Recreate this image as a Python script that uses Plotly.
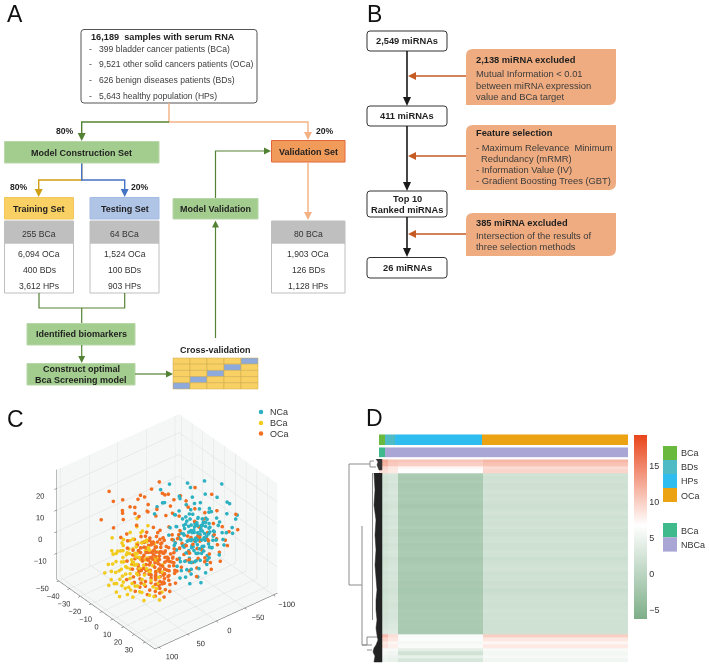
import plotly.graph_objects as go

W, H = 709, 666
FONT = 'Liberation Sans'
GREEN = '#a3cd8e'
GREEN_LINE = '#548235'
ORANGE_LINE = '#f4b183'
BROWN = '#c55a22'

# Panel C values (x, y, z)
nca_points = [
    (-1,-55,22),(6,-72,21),(-6,-40,19),(-14,-50,17),(3,-30,16),(8,-60,17),(-10,-28,15),(12,-70,15),(-4,-62,14),(1,-44,14),
    (10,-42,13),(-8,-47,13),(16,-62,12),(4,-25,12),(-13,-35,12),(7,-52,11),(-2,-33,11),(14,-48,11),(20,-70,10),(-7,-22,10),
    (2,-58,10),(11,-30,10),(-11,-42,9),(6,-38,9),(17,-45,9),(-3,-50,9),(9,-20,9),(0,-28,8),(13,-55,8),(22,-60,8),
    (-9,-18,8),(5,-46,8),(18,-35,8),(-5,-30,7),(8,-33,7),(1,-15,7),(12,-40,7),(25,-55,7),(-6,-38,7),(15,-25,7),
    (3,-52,6),(-1,-22,6),(10,-28,6),(19,-48,6),(-12,-25,6),(6,-18,6),(14,-36,6),(2,-36,6),(23,-42,5),(-4,-12,5),
    (9,-44,5),(17,-22,5),(0,-30,5),(5,-25,5),(12,-15,5),(-8,-30,5),(20,-30,5),(7,-36,4),(-2,-40,4),(15,-40,4),
    (3,-20,4),(10,-12,4),(26,-38,4),(-6,-15,4),(13,-28,4),(1,-48,3),(18,-18,3),(5,-32,3),(-3,-24,3),(8,-8,3),
    (22,-25,3),(11,-36,3),(-9,-10,3),(16,-30,2),(3,-42,2),(6,-14,2),(-1,-18,2),(20,-14,2),(9,-24,2),(13,-6,2),
    (-5,-35,2),(27,-28,1),(1,-10,1),(15,-16,1),(7,-30,1),(-7,-4,1),(11,-20,1),(4,-38,1),(18,-8,1),(0,-2,0),
    (24,-16,0),(8,-16,0),(-3,-14,0),(13,-26,0),(5,-6,0),(17,-34,0),(2,-26,-1),(10,-2,-1),(21,-6,-1),(-5,-8,-1),
    (14,-12,-1),(6,-22,-2),(18,-24,-2),(-2,-4,-2),(9,-32,-2),(25,-10,-2),(3,-12,-2),(12,-4,-3),(16,0,-3),(0,-20,-3),
    (7,-10,-3),(20,-20,-3),(11,2,-4),(4,-18,-4),(15,-8,-4),(22,-2,-4),(-1,-6,-4),(8,4,-5),(13,-14,-5),(18,4,-5),
    (5,0,-5),(26,-6,-5),(10,-8,-6),(15,6,-6),(20,8,-6),(7,8,-7),(23,2,-7),(12,10,-7),(17,12,-8),(27,4,-8),
    (22,14,-9),(14,16,-9),(-16,-10,12),(-20,-8,9),(-17,2,8),(-22,-18,15),(-12,-6,14),(-18,-26,18),(9,-80,12),(14,-84,8),
    (4,-34,9),(8,-40,6),(12,-24,8),(-1,-38,5),(5,-28,7),(10,-36,9),(15,-32,6),(3,-26,3),(7,-22,5),(12,-32,2),
    (-3,-28,6),(1,-34,4),(6,-30,2),(10,-18,3),(14,-22,4),(2,-14,3),(8,-26,8),(17,-38,7),(19,-26,2),(4,-40,5),
    (13,-44,3),(9,-38,1),(16,-18,-1),(6,-26,0),(11,-14,-1),(21,-34,5),(-4,-20,1),(0,-42,7),(24,-46,8),(7,-48,6),
]
bca_points = [
    (-25,8,-2),(-30,20,-3),(-22,30,-2),(-18,14,-3),(-28,38,-5),(-14,8,-4),(-32,28,-6),(-20,44,-6),(-12,22,-5),(-24,18,-6),
    (-16,34,-6),(-8,14,-5),(-27,50,-8),(-19,26,-7),(-10,34,-7),(-22,36,-8),(-14,46,-8),(-6,22,-7),(-30,42,-9),(-17,18,-7),
    (-11,28,-8),(-24,56,-10),(-4,30,-8),(-18,40,-9),(-8,44,-9),(-26,30,-8),(-13,52,-10),(-21,48,-10),(-2,38,-9),(-15,30,-9),
    (-7,52,-10),(-19,60,-12),(-10,42,-10),(-28,62,-12),(-3,46,-10),(-14,58,-12),(0,28,-9),(-23,66,-13),(-9,60,-12),(-17,50,-11),
    (-5,36,-10),(2,44,-11),(-12,66,-14),(-20,72,-15),(-6,62,-13),(1,54,-12),(-15,72,-15),(-2,60,-13),(4,34,-10),(-8,70,-15),
    (6,48,-12),(-4,74,-16),(-18,80,-16),(3,62,-14),(-10,82,-16),(8,58,-14),(0,72,-16),(-26,72,-14),(-13,24,-4),(-5,18,-6),
    (-20,10,-5),(-16,22,-2),(-9,26,-3),(-12,38,-6),(-3,24,-6),(-25,42,-7),(-7,34,-5),(-15,16,-6),(-22,24,-5),(-1,18,-8),
    (3,26,-9),(-11,48,-8),(-18,32,-4),(5,38,-12),(-6,42,-7),(-14,38,-10),(-9,18,-8),(-20,54,-9),(-2,52,-11),(7,44,-13),
    (10,40,-14),(9,52,-15),(-16,62,-10),(-24,48,-6),(-29,54,-7),(-34,44,-4),(-4,56,-9),(-12,72,-12),(-1,66,-12),(12,48,-16),
    (-8,30,-1),(-22,4,1),(-27,14,0),(-14,30,-1),(-30,8,2),(-19,22,1),(5,62,-17),(-7,82,-17),(-13,60,-8),(-10,52,-6),
    (-23,46,-9),(-17,58,-14),(-11,56,-11),(-6,68,-14),(-25,60,-11),(-15,40,-5),(-9,48,-7),(-21,32,-6),(0,60,-15),(-3,70,-14),
    (-31,48,-10),(-29,34,-7),(-16,44,-10),(-24,38,-9),(-19,66,-12),(-14,78,-14),(-8,76,-13),(-2,44,-7),(-12,44,-5),(-27,26,-5),
]
oca_points = [
    (-41,36,14),(-20,-12,20),(-38,18,9),(-30,2,12),(-26,14,13),(-33,28,7),(-24,-6,16),(-22,10,15),(-35,40,12),(-28,24,10),
    (-31,10,7),(-18,-18,14),(-25,-2,9),(-21,6,8),(-36,22,4),(-29,34,5),(-15,-8,17),(-24,16,6),(-19,-26,13),(-33,6,3),
    (-27,-4,5),(-38,34,-2),(-26,44,-1),(-42,48,2),(-23,22,3),(-18,-4,9),(-14,-20,10),(-10,-30,15),(-6,-48,18),(2,-62,16),
    (10,-56,12),(18,-74,11),(24,-66,7),(-5,-34,11),(5,-42,8),(12,-36,5),(16,-54,7),(21,-50,3),(-8,-24,7),(0,-36,6),
    (8,-26,3),(14,-32,3),(20,-38,2),(25,-32,1),(-3,-16,3),(3,-24,1),(9,-16,1),(15,-20,0),(22,-12,-2),(-6,-8,1),
    (1,-12,-1),(7,-4,-3),(13,-2,-3),(19,-4,-5),(24,6,-6),(5,4,-5),(-1,-2,-3),(-10,-10,3),(-14,-2,1),(-17,4,2),
    (-12,8,0),(-8,2,-1),(-4,6,-2),(-19,12,0),(-15,14,-1),(-11,16,-2),(-7,10,-3),(-3,12,-4),(0,6,-4),(-21,18,-2),
    (-17,20,-3),(-13,20,-3),(-9,18,-4),(-5,16,-4),(-1,14,-5),(2,12,-6),(-23,26,-3),(-19,28,-4),(-15,24,-4),(-11,24,-5),
    (-7,22,-5),(-3,20,-6),(1,18,-6),(4,16,-7),(-20,34,-6),(-16,32,-5),(-12,30,-6),(-8,28,-6),(-4,26,-7),(0,24,-7),
    (3,22,-8),(6,20,-8),(-18,38,-7),(-14,36,-7),(-10,36,-7),(-6,32,-8),(-2,30,-8),(2,28,-9),(5,26,-9),(8,24,-9),
    (-15,44,-9),(-11,42,-9),(-7,40,-9),(-3,36,-9),(1,34,-10),(4,32,-10),(7,30,-10),(10,28,-10),(-12,50,-10),(-8,46,-10),
    (-4,44,-10),(0,40,-11),(3,38,-11),(6,36,-11),(9,34,-11),(12,30,-11),(-9,54,-12),(-5,50,-12),(-1,48,-12),(2,44,-12),
    (5,42,-12),(8,40,-13),(11,36,-13),(14,34,-13),(-6,58,-13),(-2,56,-14),(1,52,-13),(4,50,-14),(7,46,-14),(10,44,-14),
    (-10,4,-3),(-6,4,-5),(-14,10,-3),(-9,12,-1),(-5,22,-3),(-12,14,-6),(-16,10,-5),(-2,8,-6),(-8,16,-7),(-4,30,-5),
    (-10,26,-8),(-14,28,-8),(-6,36,-5),(-1,26,-5),(3,30,-7),(-3,42,-8),(-8,34,-11),(1,42,-9),(-12,40,-11),(-5,12,0),
    (-9,22,0),(-13,4,1),(-2,20,-2),(-18,16,-1),(-7,6,1),(0,16,-2),(4,10,-4),(7,14,-6),(10,18,-8),(13,22,-11),
    (2,-6,-2),(6,-10,0),(10,-6,-1),(-4,-4,0),(-2,-12,2),(4,-16,3),(11,-24,4),(17,-28,4),(6,-32,6),(12,-46,8),
    (2,-50,9),(-3,-42,10),(-9,-38,12),(16,-40,5),(21,-22,0),(17,-10,-2),(11,0,-4),(2,4,-3),(-1,-8,1),(8,-20,2),
    (15,-46,2),(26,-44,3),(19,-60,5),(23,-20,-3),(27,-14,-4),(29,-26,-1),(-15,-14,6),(-20,-6,5),(-11,-18,8),(-16,-30,11),
    (2,30,-15),(-2,64,-15),(5,56,-15),(-11,62,-13),(9,50,-15),(13,42,-15),(-17,50,-8),(-22,40,-5),(-26,32,-4),(-30,26,-3),
    (-13,18,-1),(-9,14,-3),(-5,10,-5),(-1,10,-7),(-16,26,-2),(-12,26,-3),(-8,24,-4),(-4,18,-5),(0,20,-8),(3,18,-9),
    (-14,32,-3),(-10,30,-4),(-6,28,-5),(-2,24,-7),(1,28,-8),(4,26,-10),(-12,36,-4),(-8,40,-6),(-4,34,-6),(0,32,-9),
    (4,40,-9),(7,34,-12),(-10,44,-8),(-6,46,-9),(-2,40,-10),(2,36,-11),(6,30,-12),(-7,18,-2),(-3,16,-3),(1,12,-5),
    (-11,12,-4),(-15,20,-5),(-13,34,-7),(-9,32,-9),(-5,26,-9),(-1,30,-10),(2,24,-10),(5,20,-11),(-7,48,-11),(-3,52,-13),
    (-16,38,-8),(-19,22,-6),(-8,8,-2),(-4,2,-3),(0,2,-6),(3,6,-7),(6,10,-9),(9,12,-8),(5,14,-5),(-12,2,-2),
    (11,8,-6),(15,2,-7),(13,-8,-5),(8,-12,-3),(4,-2,-1),(-2,-6,-1),(9,-28,1),(14,-14,1),(19,-18,-2),(5,-20,2),
]
series_names = ['NCa', 'BCa', 'OCa']
series_colors = ['#2bb1c1', '#f2cb1d', '#f26f21']
x_ticks = [-50, -40, -30, -20, -10, 0, 10, 20, 30]
y_ticks = [-100, -50, 0, 50, 100]
z_ticks = [-10, 0, 10, 20]

# Panel D values: one column of expression per sample group, top row first
group_edges = [0, 399, 1025, 6668, 16189]
status_edges = [0, 399, 16189]
heat_edges = [0, 600, 1235, 6786, 16189]
heat_col_bca = [12.4, 11.8, 9.4, 9.0, 2.6, 2.2, 2.4, 2.0, 2.3, 2.5, 2.1, 2.6, 2.2, 1.9, 2.3, 2.5, 2.0, 2.4, 2.2, 2.6, 2.1, 1.9, 2.3, 2.4, 2.0, 2.2, 2.6, 2.3, 1.8, 2.1, 2.4, 2.5, 2.0, 2.2, 2.3, 1.9, 2.1, 1.7, 1.9, 2.2, 2.3, 2.0, 2.1, 2.4, 2.2, 2.4, 2.6, 2.8, 3.0, 3.4, 11.4, 9.6, 8.2, 8.6, 6.2, 5.8, 5.4, 5.0]
heat_col_bds = [10.8, 10.4, 8.4, 8.2, 2.9, 2.6, 2.9, 2.5, 2.7, 3.0, 2.6, 2.9, 2.6, 2.4, 2.8, 3.0, 2.5, 2.8, 2.6, 3.0, 2.5, 2.4, 2.7, 2.8, 2.4, 2.6, 3.0, 2.7, 2.3, 2.5, 2.8, 2.9, 2.5, 2.6, 2.7, 2.4, 2.5, 2.2, 2.4, 2.6, 2.7, 2.4, 2.5, 2.8, 2.6, 2.8, 3.0, 3.2, 3.4, 3.8, 9.0, 8.4, 7.4, 7.8, 6.0, 5.4, 5.0, 4.6]
heat_col_hps = [10.6, 10.0, 7.4, 6.8, -1.6, -1.8, -1.5, -1.9, -1.7, -1.5, -1.8, -1.4, -1.7, -2.0, -1.6, -1.4, -1.8, -1.6, -1.7, -1.3, -1.7, -1.9, -1.6, -1.5, -1.9, -1.7, -1.4, -1.6, -2.0, -1.8, -1.5, -1.5, -1.8, -1.7, -1.6, -1.9, -1.8, -2.1, -1.9, -1.7, -1.6, -1.8, -1.8, -1.5, -1.7, -1.6, -1.7, -1.6, -1.7, -1.8, 6.2, 6.4, 5.8, 6.2, 4.2, 2.2, 4.6, 2.8]
heat_col_oca = [11.6, 10.8, 9.2, 9.6, 2.2, 1.9, 2.3, 1.8, 2.0, 2.4, 1.9, 2.3, 2.0, 1.7, 2.1, 2.4, 1.8, 2.2, 2.0, 2.4, 1.9, 1.7, 2.1, 2.2, 1.8, 2.0, 2.4, 2.1, 1.6, 1.9, 2.2, 2.4, 1.8, 2.0, 2.1, 1.7, 1.9, 1.5, 1.7, 2.0, 2.1, 1.8, 1.9, 2.2, 2.0, 2.1, 2.0, 1.9, 2.0, 2.1, 10.0, 8.4, 7.4, 8.2, 6.0, 5.6, 6.0, 5.4]
heat_rows = list(range(1, 59))
heat_ticks = [-5, 0, 5, 10, 15]
group_names = ['BCa', 'BDs', 'HPs', 'OCa']
group_colors = ['#6ab93f', '#4fbcc5', '#2fbcee', '#eba314']
status_names = ['BCa', 'NBCa']
status_colors = ['#3fba8c', '#a9a5d4']

# Tree lines at the left of the heatmap, in page pixels
dend_tree_x = [370, 349, 349, 362, None, 362, 362, 372, None, 362, 367, 367, 378, None, 367, 372, None, 370, 370, 376, None, 370, 374, None, 372.5, 372.5]
dend_tree_y = [464, 464, 585, 585, None, 526, 645, 645, None, 645, 645, 637, 637, None, 650, 650, None, 461, 467, 467, None, 461, 461, None, 473, 620]
dend_mass_x = [374, 375, 374, 376, 375, 376, 375, 376, 377, 376, 376, 377, 376, 377, 378, 376, 374, 373, 375, 374, 379, 382, 382]
dend_mass_y = [473, 490, 505, 520, 535, 550, 565, 580, 590, 600, 610, 620, 628, 635, 640, 645, 648, 652, 656, 662, 662, 662, 473]
dend_top_x = [376, 378, 377, 379, 382, 382]
dend_top_y = [459, 462, 465, 470, 470, 459]

shapes = []
annotations = []


def px(x0, x1):
    return [x0 / W, x1 / W]


def py(y0, y1):
    # y0 is the lower edge on the page, in pixels from the top
    return [1 - y0 / H, 1 - y1 / H]


def add_shape(path, fill=None, line=None, width=1):
    shapes.append(dict(type='path', path=path, xref='x5', yref='y5', fillcolor=fill or 'rgba(0,0,0,0)',
                       line=dict(color=line or 'rgba(0,0,0,0)', width=width if line else 0), layer='above'))


def rect(x0, y0, x1, y1, fill, line=None, width=1):
    add_shape(f'M{x0},{y0}L{x1},{y0}L{x1},{y1}L{x0},{y1}Z', fill, line, width)


def round_rect(x0, y0, x1, y1, r, fill, line, width=1):
    add_shape(f'M{x0+r},{y0}L{x1-r},{y0}Q{x1},{y0} {x1},{y0+r}L{x1},{y1-r}Q{x1},{y1} {x1-r},{y1}'
              f'L{x0+r},{y1}Q{x0},{y1} {x0},{y1-r}L{x0},{y0+r}Q{x0},{y0} {x0+r},{y0}Z', fill, line, width)


def tag_box(x0, y0, x1, y1, r=7):
    # orange note boxes, rounded only top left and bottom right
    add_shape(f'M{x0+r},{y0}L{x1},{y0}L{x1},{y1-r}Q{x1},{y1} {x1-r},{y1}L{x0},{y1}L{x0},{y0+r}Q{x0},{y0} {x0+r},{y0}Z',
              '#efac80')


def poly(pts, color, width=1.3):
    add_shape('M' + 'L'.join(f'{x},{y}' for x, y in pts), None, color, width)


def head(x, y, d, color, size=4, length=8):
    # d is the direction the arrow points to
    if d == 'down':
        pts = [(x - size, y - length), (x + size, y - length), (x, y)]
    elif d == 'up':
        pts = [(x - size, y + length), (x + size, y + length), (x, y)]
    elif d == 'right':
        pts = [(x - length, y - size), (x - length, y + size), (x, y)]
    else:
        pts = [(x + length, y - size), (x + length, y + size), (x, y)]
    add_shape('M' + 'L'.join(f'{a},{b}' for a, b in pts) + 'Z', color)


def text(x, y, s, size=8.6, bold=False, anchor='center', color=None):
    annotations.append(dict(x=x, y=y, xref='x5', yref='y5', text=f'<b>{s}</b>' if bold else s, showarrow=False,
                            xanchor=anchor, yanchor='middle', borderpad=0,
                            font=dict(family=FONT, size=size, color=color or ('#1f1f1f' if bold else '#3c3c3c'))))


fig = go.Figure()

# C: 3D scatter
for name, color, points in zip(series_names, series_colors, [nca_points, bca_points, oca_points]):
    fig.add_trace(go.Scatter3d(
        x=[p[0] for p in points], y=[p[1] for p in points], z=[p[2] for p in points],
        mode='markers', name=name, marker=dict(size=2.1, color=color, line=dict(width=0)),
    ))

# C: key
fig.add_trace(go.Scatter(x=[261, 261, 261], y=[412, 423, 433.5], mode='markers', xaxis='x5', yaxis='y5',
                         marker=dict(size=4.5, color=series_colors)))
for y, name in zip([411.5, 422.5, 433.5], series_names):
    text(269, y, name, 9, anchor='left', color='#333333')

# D: main heatmap and the two annotation strips
fig.add_trace(go.Heatmap(
    x=heat_edges, y=heat_rows, z=[list(r) for r in zip(heat_col_bca, heat_col_bds, heat_col_hps, heat_col_oca)],
    xaxis='x2', yaxis='y2', zmin=-6.25, zmax=19.3,
    colorscale=[[0, '#7dae88'], [0.51, '#ffffff'], [1, '#e9451a']],
    colorbar=dict(x=634 / W, xanchor='left', y=1 - 619 / H, yanchor='bottom', len=184 / H, thickness=12.5,
                  xpad=0, ypad=0, tickvals=heat_ticks, ticktext=['\u22125', '0', '5', '10', '15'], ticks='',
                  outlinewidth=0, tickfont=dict(family=FONT, size=9, color='#333333')),
))
fig.add_trace(go.Heatmap(
    x=group_edges, y=[0], z=[[0, 1, 2, 3]], xaxis='x3', yaxis='y3', showscale=False, zmin=0, zmax=3,
    colorscale=[[0, group_colors[0]], [0.25, group_colors[0]], [0.25, group_colors[1]], [0.5, group_colors[1]],
                [0.5, group_colors[2]], [0.75, group_colors[2]], [0.75, group_colors[3]], [1, group_colors[3]]],
))
fig.add_trace(go.Heatmap(
    x=status_edges, y=[0], z=[[0, 1]], xaxis='x4', yaxis='y4', showscale=False, zmin=0, zmax=1,
    colorscale=[[0, status_colors[0]], [0.5, status_colors[0]], [0.5, status_colors[1]], [1, status_colors[1]]],
))

# Dendrogram, drawn over the left edge of the heatmap
fig.add_trace(go.Scatter(x=dend_tree_x, y=dend_tree_y, mode='lines', xaxis='x5', yaxis='y5',
                         line=dict(color='#8c8c8c', width=1)))
fig.add_trace(go.Scatter(x=dend_mass_x, y=dend_mass_y, mode='lines', fill='toself', fillcolor='#222222',
                         xaxis='x5', yaxis='y5', line=dict(color='#222222', width=0.5)))
fig.add_trace(go.Scatter(x=dend_top_x, y=dend_top_y, mode='lines', fill='toself', fillcolor='#333333',
                         xaxis='x5', yaxis='y5', line=dict(color='#333333', width=0.5)))

# D legends
for i, (name, color) in enumerate(zip(group_names, group_colors)):
    rect(663, 446 + 14 * i, 677, 460 + 14 * i, color)
    text(680, 453 + 14.2 * i, name, 9, anchor='left', color='#333333')
for i, (name, color) in enumerate(zip(status_names, status_colors)):
    rect(663, 523 + 14.3 * i, 677, 537.3 + 14.3 * i, color)
    text(680, 531 + 14 * i, name, 9, anchor='left', color='#333333')

# Panel letters
for letter, x, y in [('A', 6, 14), ('B', 366, 14), ('C', 6, 419), ('D', 365, 418)]:
    text(x, y, letter, 23, anchor='left', color='#111111')

# A: top box
round_rect(81, 29.5, 257, 103, 3, '#ffffff', '#555555', 1)
text(163, 36.5, '16,189  samples with serum RNA', 9.2, True)
for y, s in [(49, '399 bladder cancer patients (BCa)'), (64, '9,521 other solid cancers patients (OCa)'),
             (80, '626 benign diseases patients (BDs)'), (96, '5,643 healthy population (HPs)')]:
    text(88, y, '-', anchor='left')
    text(98, y, s, anchor='left')

# A: connectors
poly([(169, 103), (169, 122), (308, 122), (308, 133)], ORANGE_LINE, 1.4)
head(308, 140, 'down', ORANGE_LINE)
poly([(169, 122), (81.7, 122), (81.7, 133)], GREEN_LINE, 1.4)
head(81.7, 141, 'down', GREEN_LINE)
text(65, 131, '80%', 8.6, True)
text(325, 131, '20%', 8.6, True)
poly([(81.7, 163), (81.7, 180), (38.7, 180), (38.7, 190)], '#d09f15', 1.4)
poly([(81.7, 163), (81.7, 180), (124.7, 180), (124.7, 190)], '#4472c4', 1.4)
head(38.7, 197, 'down', '#d09f15')
head(124.7, 197, 'down', '#4472c4')
text(19, 187, '80%', 8.6, True)
text(140, 187, '20%', 8.6, True)

# A: coloured boxes
rect(4.5, 141.5, 159, 163, GREEN, '#b7d7a8')
text(81.7, 152.5, 'Model Construction Set', 9, True)
rect(271.5, 140.5, 345, 162, '#f19b5b', '#e2653b')
text(308, 151.5, 'Validation Set', 9, True)
rect(4.5, 197.5, 73.5, 219, '#f9d063', '#f4c75c')
text(39, 208.5, 'Training Set', 9, True)
rect(90, 197.5, 159, 219, '#b0c4e6', '#a3bbe4')
text(124.7, 208.5, 'Testing Set', 9, True)
rect(173, 198.5, 258, 219, GREEN, '#b7d7a8')
text(215.5, 209, 'Model Validation', 9, True)

# A: sample count tables
tables = [(4.5, 73.5, 39, ['255 BCa', '6,094 OCa', '400 BDs', '3,612 HPs']),
          (90, 159, 124.5, ['64 BCa', '1,524 OCa', '100 BDs', '903 HPs']),
          (271.5, 345, 308, ['80 BCa', '1,903 OCa', '126 BDs', '1,128 HPs'])]
for x0, x1, xc, rows in tables:
    rect(x0, 243, x1, 293, '#ffffff', '#bfbfbf')
    rect(x0, 221, x1, 243, '#bfbfbf', '#bfbfbf')
    text(xc, 234, rows[0], color='#333333')
    for y, s in zip([254, 270, 286], rows[1:]):
        text(xc, y, s, color='#333333')

# A: lower part of the flow
poly([(39, 293), (39, 308), (124.7, 308), (124.7, 293)], GREEN_LINE, 1.2)
poly([(81.7, 308), (81.7, 323)], GREEN_LINE, 1.2)
rect(27, 323.5, 135, 345, GREEN, '#b7d7a8')
text(81, 334, 'Identified biomarkers', 9, True)
poly([(81.7, 345), (81.7, 357)], GREEN_LINE, 1.2)
head(81.7, 363, 'down', GREEN_LINE, 3.5, 7)
rect(27, 363.5, 135, 385, GREEN, '#b7d7a8')
text(81, 369, 'Construct optimal', 9, True)
text(81, 380, 'Bca Screening model', 9, True)
poly([(135, 374), (166, 374)], GREEN_LINE, 1.2)
head(173, 374, 'right', GREEN_LINE, 3.5, 7)
text(215.5, 350, 'Cross-validation', 9, True)

# A: cross-validation grid, one blue fold per row
for row in range(5):
    for col in range(5):
        fold = col == 4 - row
        x0 = 173 + 17 * col
        y0 = 358 + 6.2 * row
        rect(x0, y0, x0 + 17, y0 + 6.2, '#8ea9db' if fold else '#f9d063', '#c9a94a', 0.5)

poly([(215.5, 338), (215.5, 227)], GREEN_LINE, 1.2)
head(215.5, 220.5, 'up', GREEN_LINE, 3.5, 7)
poly([(215.5, 198), (215.5, 151), (264, 151)], GREEN_LINE, 1.2)
head(271, 151, 'right', GREEN_LINE, 3.5, 7)
poly([(308, 162), (308, 212)], ORANGE_LINE, 1.4)
head(308, 220, 'down', ORANGE_LINE)

# B: main column
for y0, y1 in [(31, 51), (106, 126), (191, 217), (257.5, 278)]:
    round_rect(367, y0, 447, y1, 3, '#ffffff', '#333333', 1)
text(407, 41, '2,549 miRNAs', 9.3, True)
text(407, 116, '411 miRNAs', 9.3, True)
text(407, 198.5, 'Top 10', 9.3, True)
text(407, 209.5, 'Ranked miRNAs', 9.3, True)
text(407, 268, '26 miRNAs', 9.3, True)
for y0, y1 in [(51, 106), (126, 191), (217, 257)]:
    poly([(407, y0), (407, y1 - 7)], '#1a1a1a', 1.6)
    head(407, y1, 'down', '#1a1a1a', 4, 9)

# B: notes
tag_box(466, 49, 616, 105)
tag_box(466, 125, 616, 190)
tag_box(466, 213, 616, 256)
for y in [76, 156, 234]:
    poly([(466, y), (414, y)], BROWN, 1.4)
    head(408, y, 'left', BROWN, 4, 8)
text(475, 60, '2,138 miRNA excluded', 9.3, True, 'left')
text(475, 73, 'Mutual Information &lt; 0.01', 9.4, anchor='left')
text(475, 85, 'between miRNA expression', 9.4, anchor='left')
text(475, 96, 'value and BCa target', 9.4, anchor='left')
text(475, 133, 'Feature selection', 9.3, True, 'left')
text(475, 147, '- Maximum Relevance  Minimum', 9.4, anchor='left')
text(480, 158, 'Redundancy (mRMR)', 9.4, anchor='left')
text(475, 169, '- Information Value (IV)', 9.4, anchor='left')
text(475, 180, '- Gradient Boosting Trees (GBT)', 9.4, anchor='left')
text(475, 223, '385 miRNA excluded', 9.3, True, 'left')
text(475, 235, 'Intersection of the results of', 9.4, anchor='left')
text(475, 246, 'three selection methods', 9.4, anchor='left')

axis_off = dict(visible=False, fixedrange=True)
tick_font = dict(family=FONT, size=9.5, color='#333333')


def scene_axis(ticks, low, high):
    return dict(range=[low, high], tickvals=ticks, tickfont=tick_font, title='', backgroundcolor='#f5f7f7',
                showbackground=True, gridcolor='#dcdcdc', gridwidth=1, zeroline=False, showspikes=False, tickangle=0,
                showline=True, linecolor='#4d4d4d', linewidth=1, ticks='outside', ticklen=3, tickcolor='#4d4d4d')


fig.update_layout(
    width=W, height=H, margin=dict(l=0, r=0, t=0, b=0), autosize=False,
    paper_bgcolor='#ffffff', plot_bgcolor='rgba(0,0,0,0)',
    font=dict(family=FONT, size=9, color='#333333'),
    showlegend=False,
    scene=dict(
        domain=dict(x=px(22, 312), y=py(666, 397)),
        xaxis=scene_axis(x_ticks, -52, 39),
        yaxis=scene_axis(y_ticks, 107, -107),
        zaxis=scene_axis(z_ticks, -22, 28.6),
        aspectmode='manual', aspectratio=dict(x=1.168, y=1.168, z=0.99),
        camera=dict(eye=dict(x=1.32, y=-1.06, z=1.17), up=dict(x=0, y=0, z=1), center=dict(x=0, y=0, z=0),
                    projection=dict(type='orthographic')),
    ),
    xaxis2=dict(domain=px(379, 628), range=[0, 16189], **axis_off),
    yaxis2=dict(domain=py(662, 459.3), range=[58.5, 0.5], anchor='x2', **axis_off),
    xaxis3=dict(domain=px(379, 628), range=[0, 16189], **axis_off),
    yaxis3=dict(domain=py(445, 434.3), range=[-0.5, 0.5], anchor='x3', **axis_off),
    xaxis4=dict(domain=px(379, 628), range=[0, 16189], **axis_off),
    yaxis4=dict(domain=py(457.5, 447.3), range=[-0.5, 0.5], anchor='x4', **axis_off),
    xaxis5=dict(domain=[0, 1], range=[0, W], **axis_off),
    yaxis5=dict(domain=[0, 1], range=[H, 0], anchor='x5', **axis_off),
    shapes=shapes, annotations=annotations,
)

fig.write_html('out.html', config={'displayModeBar': False},
               post_script="document.body.style.margin='0';document.body.style.overflow='hidden';")
